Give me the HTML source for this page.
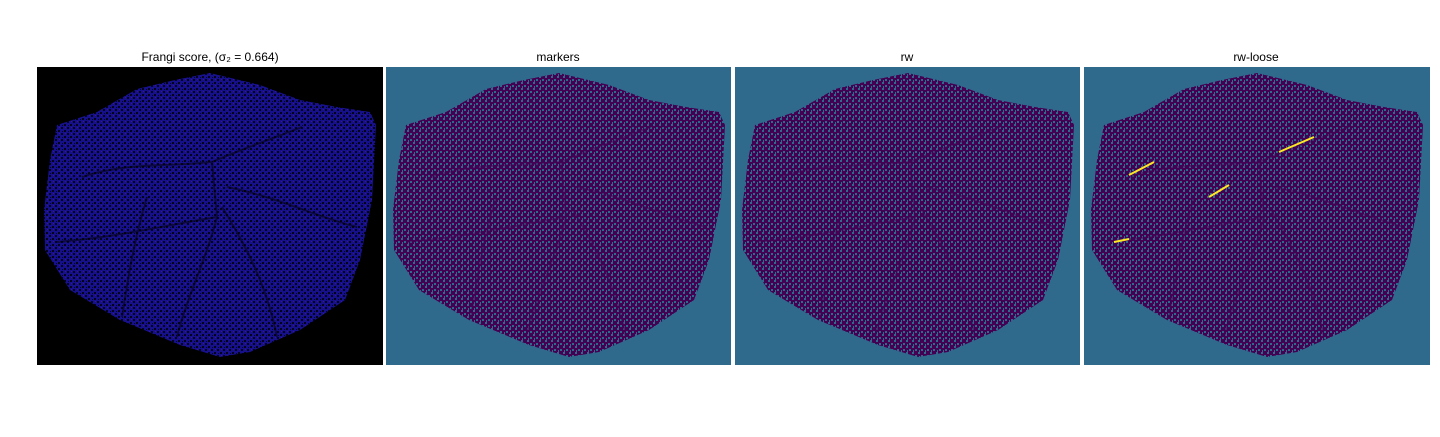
<!DOCTYPE html>
<html><head><meta charset="utf-8"><style>
body{margin:0;background:#fff;width:1440px;height:432px;overflow:hidden;font-family:"Liberation Sans","DejaVu Sans",sans-serif}
</style></head><body>
<svg width="1440" height="432" xmlns="http://www.w3.org/2000/svg">
<defs>
<pattern id="noise1" width="6" height="6" patternUnits="userSpaceOnUse">
<rect width="6" height="6" fill="#16118a"/><rect x="0" y="0" width="2" height="2" fill="#03031c"/><rect x="3" y="3" width="2" height="2" fill="#03031c"/><rect x="4" y="0" width="1" height="1" fill="#3a10a8"/><rect x="1" y="4" width="1" height="1" fill="#03031c"/>
</pattern>
<pattern id="noise2" width="6" height="6" patternUnits="userSpaceOnUse">
<rect width="6" height="6" fill="#440154"/><rect x="0" y="0" width="2" height="2" fill="#2f6a8d"/><rect x="3" y="3" width="2" height="2" fill="#2f6a8d"/><rect x="4" y="1" width="1" height="2" fill="#2f6a8d"/>
</pattern>
<polygon id="blob" points="20,58 60,45 100,22 138,13 173,6 223,18 263,33 300,40 333,45 339,58 335,133 323,193 308,233 263,263 213,285 183,290 143,278 83,253 33,223 8,183 7,143 13,93"/>
<g id="vessels" fill="none" stroke-width="2">
<path d="M45,110 C90,95 130,100 175,95 M175,95 C210,80 240,70 265,60 M175,95 L180,150 C170,190 150,230 140,270 M185,140 C210,180 230,220 240,270 M180,150 C120,160 80,170 20,175 M190,120 C240,130 280,150 320,160 M110,130 C95,180 90,220 85,250"/>
</g>
</defs>
<g>
<text x="210" y="61" font-size="12" text-anchor="middle">Frangi score, (σ₂ = 0.664)</text>
<rect x="37" y="67" width="346" height="298" fill="#000"/>
<g transform="translate(37,67)"><use href="#blob" fill="url(#noise1)"/><use href="#vessels" stroke="#000" opacity="0.5"/></g>
</g>
<g>
<text x="558" y="61" font-size="12" text-anchor="middle">markers</text>
<rect x="386" y="67" width="345" height="298" fill="#2f6a8d"/>
<g transform="translate(386,67)"><use href="#blob" fill="url(#noise2)"/><use href="#vessels" stroke="#440154" opacity="0.5"/></g>
</g>
<g>
<text x="907" y="61" font-size="12" text-anchor="middle">rw</text>
<rect x="735" y="67" width="345" height="298" fill="#2f6a8d"/>
<g transform="translate(735,67)"><use href="#blob" fill="url(#noise2)"/><use href="#vessels" stroke="#440154" opacity="0.5"/></g>
</g>
<g>
<text x="1256" y="61" font-size="12" text-anchor="middle">rw-loose</text>
<rect x="1084" y="67" width="346" height="298" fill="#2f6a8d"/>
<g transform="translate(1084,67)"><use href="#blob" fill="url(#noise2)"/><use href="#vessels" stroke="#440154" opacity="0.5"/>
<path d="M45,108 L70,95 M125,130 L145,118 M195,85 L230,70 M30,175 L45,172" stroke="#fde725" stroke-width="2"/></g>
</g>
</svg>
</body></html>
